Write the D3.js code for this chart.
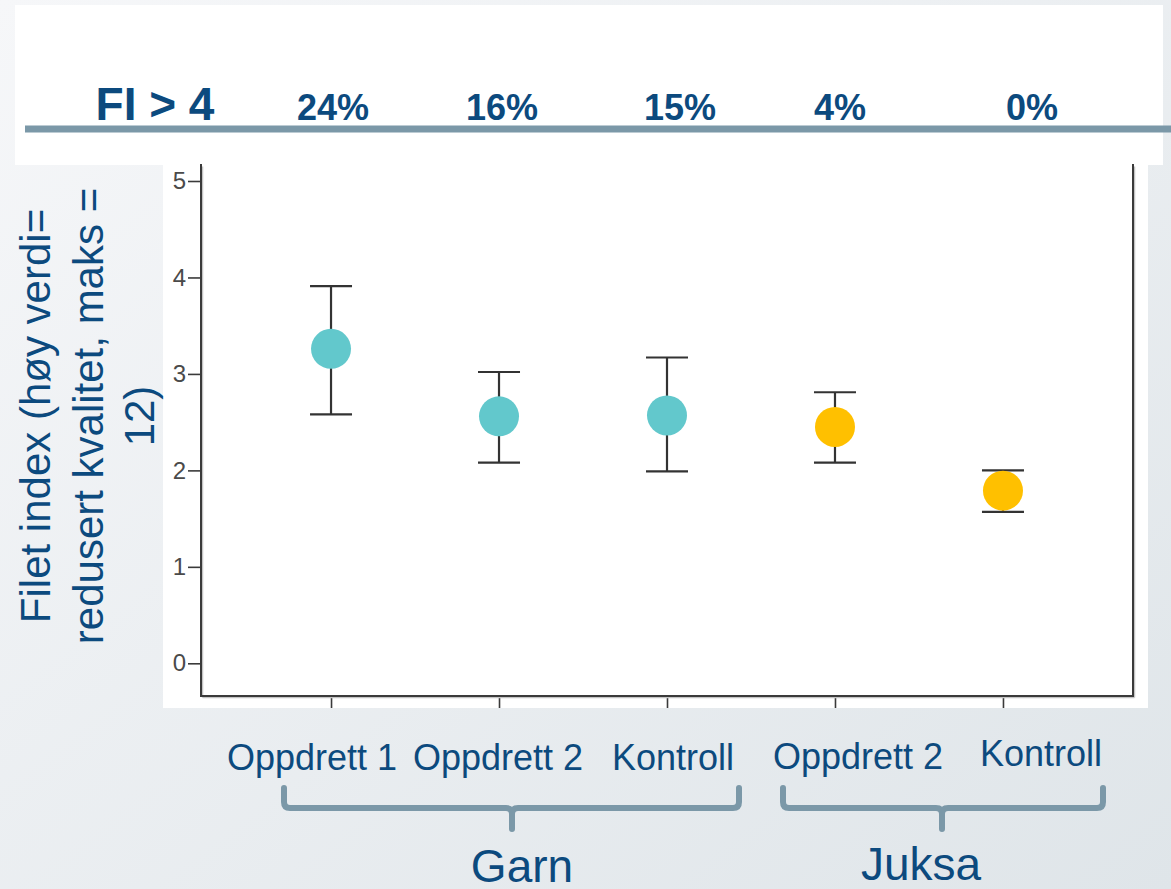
<!DOCTYPE html>
<html>
<head>
<meta charset="utf-8">
<script src="https://cdn.jsdelivr.net/npm/d3@7"></script>
<style>
  html, body { margin: 0; padding: 0; }
  body { width: 1171px; height: 889px; overflow: hidden; }
  svg { display: block; font-family: Arial, "Liberation Sans", sans-serif; }
</style>
</head>
<body>
<svg id="chart" width="1171" height="889"></svg>
<script>
// ---------------- DATA ----------------
const categoryKeys   = ["garn_opp1", "garn_opp2", "garn_kontroll", "juksa_opp2", "juksa_kontroll"];
const categoryLabels = ["Oppdrett 1", "Oppdrett 2", "Kontroll", "Oppdrett 2", "Kontroll"];
const gearGroup      = ["Garn", "Garn", "Garn", "Juksa", "Juksa"];
const meanValues     = [3.26, 2.56, 2.57, 2.45, 1.79];
const upperCI        = [3.91, 3.02, 3.17, 2.81, 2.00];
const lowerCI        = [2.58, 2.08, 1.99, 2.08, 1.57];
const shareAbove4    = ["24%", "16%", "15%", "4%", "0%"];
const yTickValues    = [0, 1, 2, 3, 4, 5];
const groupNames     = ["Garn", "Juksa"];
const headerLabel    = "FI > 4";
const yTitleLines    = ["Filet index (høy verdi=", "redusert kvalitet, maks =", "12)"];

// ---------------- STYLE / LAYOUT ----------------
const blue = "#0c4a7e";
const steel = "#7b98a8";
const groupColor = { Garn: "#62c8cc", Juksa: "#ffc000" };
const pctOffsets = [2, 3, 13, 5, 29];
const labelOffsets = [-19, -1, 6, 23, 38];
const labelBaselines = [770, 770, 770, 769, 766];

const svg = d3.select("#chart");
const defs = svg.append("defs");
const grad = defs.append("linearGradient").attr("id", "bg")
  .attr("x1", "0").attr("y1", "0").attr("x2", "1").attr("y2", "1");
grad.append("stop").attr("offset", "0").attr("stop-color", "#f6f7f9");
grad.append("stop").attr("offset", "1").attr("stop-color", "#dfe5e9");

svg.append("rect").attr("width", 1171).attr("height", 889).attr("fill", "url(#bg)");

// header white panel
svg.append("rect").attr("x", 15).attr("y", 5).attr("width", 1148).attr("height", 160).attr("fill", "#ffffff");
// plot white panel
svg.append("rect").attr("x", 163).attr("y", 164).attr("width", 985).attr("height", 544).attr("fill", "#ffffff");

// scales
const x = d3.scalePoint().domain(categoryKeys).range([201, 1133]).padding(0.774);
const y = d3.scaleLinear().domain([0, 5]).range([663.3, 181]);

// header separator + texts
svg.append("line").attr("x1", 25).attr("x2", 1171).attr("y1", 129).attr("y2", 129)
  .attr("stroke", steel).attr("stroke-width", 7);
svg.append("text").attr("x", 155).attr("y", 120).attr("text-anchor", "middle")
  .attr("font-size", 46).attr("font-weight", "bold").attr("fill", blue).text(headerLabel);
svg.append("g").selectAll("text").data(categoryKeys).join("text")
  .attr("x", (d, i) => x(d) + pctOffsets[i]).attr("y", 120)
  .attr("text-anchor", "middle").attr("font-size", 36).attr("font-weight", "bold")
  .attr("fill", blue).text((d, i) => shareAbove4[i]);

// axes
const axisColor = "#3a3a3a";
const gy = svg.append("g").attr("transform", "translate(201,0)")
  .call(d3.axisLeft(y).tickValues(yTickValues).tickSize(13).tickPadding(2).tickFormat(d3.format("d")));
gy.select(".domain").remove();
gy.selectAll(".tick line").attr("stroke", axisColor).attr("stroke-width", 1.6);
gy.selectAll(".tick text").attr("font-size", 24).attr("fill", "#4a4a4a")
  .attr("font-family", "Arial, 'Liberation Sans', sans-serif");

const gx = svg.append("g").attr("transform", "translate(0,696)")
  .call(d3.axisBottom(x).tickSize(12).tickFormat(""));
gx.select(".domain").remove();
gx.selectAll(".tick line").attr("stroke", axisColor).attr("stroke-width", 1.6);

// frame lines (left axis, bottom axis, right border) with soft shadow
const frame = [
  { x1: 201, y1: 165, x2: 201, y2: 696 },
  { x1: 201, y1: 696, x2: 1133, y2: 696 },
  { x1: 1133, y1: 165, x2: 1133, y2: 696 }
];
svg.append("g").selectAll("line").data(frame).join("line")
  .attr("x1", d => d.x1 + 1.5).attr("y1", d => d.y1 + 1.5).attr("x2", d => d.x2 + 1.5).attr("y2", d => d.y2 + 1.5)
  .attr("stroke", "#c4c4c4").attr("stroke-width", 1.5);
svg.append("g").selectAll("line").data(frame).join("line")
  .attr("x1", d => d.x1).attr("y1", d => d.y1).attr("x2", d => d.x2).attr("y2", d => d.y2)
  .attr("stroke", axisColor).attr("stroke-width", 2).attr("stroke-linecap", "square");

// error bars
const capHalf = 21;
const eb = svg.append("g").attr("stroke", "#333").attr("stroke-width", 2.2);
categoryKeys.forEach((k, i) => {
  const cx = x(k);
  eb.append("line").attr("x1", cx).attr("x2", cx).attr("y1", y(upperCI[i])).attr("y2", y(lowerCI[i]));
  eb.append("line").attr("x1", cx - capHalf).attr("x2", cx + capHalf).attr("y1", y(upperCI[i])).attr("y2", y(upperCI[i]));
  eb.append("line").attr("x1", cx - capHalf).attr("x2", cx + capHalf).attr("y1", y(lowerCI[i])).attr("y2", y(lowerCI[i]));
});

// mean points
svg.append("g").selectAll("circle").data(categoryKeys).join("circle")
  .attr("cx", d => x(d)).attr("cy", (d, i) => y(meanValues[i])).attr("r", 20)
  .attr("fill", (d, i) => groupColor[gearGroup[i]]);

// category labels
svg.append("g").selectAll("text").data(categoryKeys).join("text")
  .attr("x", (d, i) => x(d) + labelOffsets[i]).attr("y", (d, i) => labelBaselines[i])
  .attr("text-anchor", "middle").attr("font-size", 36).attr("fill", blue)
  .text((d, i) => categoryLabels[i]);

// group brackets
const bracketGeom = [
  { left: 284, right: 739, mid: 512, labelX: 522, labelY: 882 },
  { left: 783, right: 1103, mid: 942, labelX: 921, labelY: 880 }
];
const bTop = 788, bBar = 808, bStem = 829, bR = 6;
bracketGeom.forEach((b, i) => {
  const p = `M${b.left},${bTop} V${bBar - bR} Q${b.left},${bBar} ${b.left + bR},${bBar} H${b.mid - bR} Q${b.mid},${bBar} ${b.mid},${bBar + bR} V${bStem}` +
            ` M${b.mid},${bBar + bR} Q${b.mid},${bBar} ${b.mid + bR},${bBar} H${b.right - bR} Q${b.right},${bBar} ${b.right},${bBar - bR} V${bTop}`;
  svg.append("path").attr("d", p).attr("fill", "none").attr("stroke", steel)
    .attr("stroke-width", 6).attr("stroke-linecap", "round").attr("stroke-linejoin", "round");
  svg.append("text").attr("x", b.labelX).attr("y", b.labelY).attr("text-anchor", "middle")
    .attr("font-size", 46).attr("fill", blue).text(groupNames[i]);
});

// y-axis title (rotated, three centered lines)
const titleX = [50, 103, 154];
svg.append("g").selectAll("text").data(yTitleLines).join("text")
  .attr("transform", (d, i) => `translate(${titleX[i]},416) rotate(-90)`)
  .attr("text-anchor", "middle").attr("font-size", 42).attr("fill", blue)
  .text(d => d);
</script>
</body>
</html>
